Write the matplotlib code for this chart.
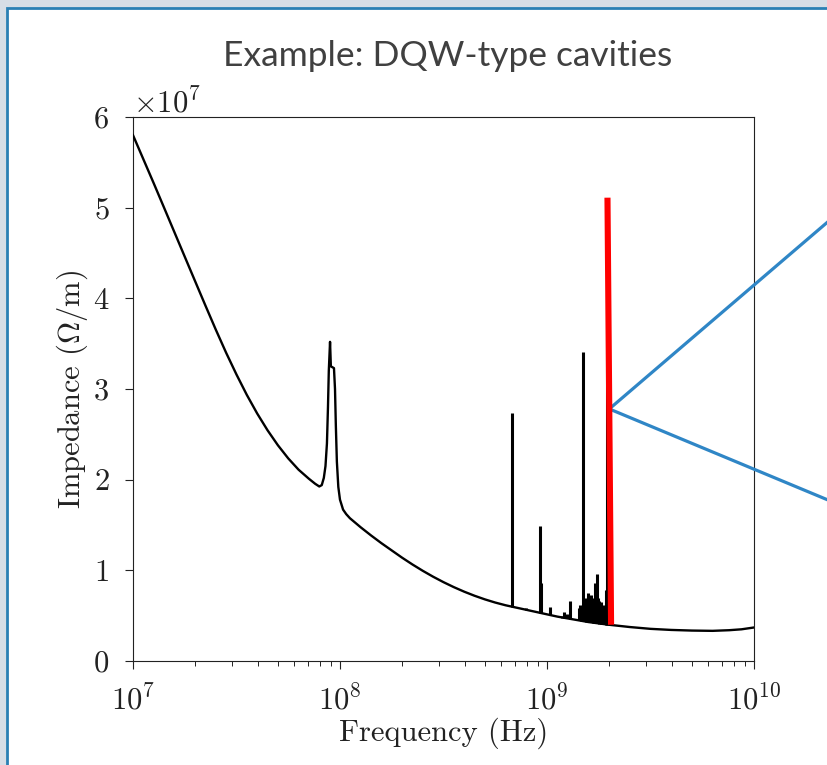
import matplotlib
matplotlib.use("Agg")
import matplotlib.pyplot as plt
from matplotlib.patches import Rectangle
from matplotlib.ticker import ScalarFormatter, LogLocator, MultipleLocator

# Broadband impedance curve (frequency in Hz, impedance in Ohm/m)
curve_freq = [1.000e7, 1.122e7, 1.259e7, 1.413e7, 1.585e7, 1.778e7, 1.995e7,
              2.239e7, 2.512e7, 2.818e7, 3.162e7, 3.548e7, 3.981e7, 4.467e7,
              5.012e7, 5.623e7, 6.310e7, 7.079e7, 7.586e7, 7.943e7, 8.166e7,
              8.356e7, 8.511e7, 8.650e7, 8.750e7, 8.831e7, 8.954e7, 9.036e7,
              9.354e7, 9.462e7, 9.550e7, 9.660e7, 9.817e7, 1.000e8, 1.035e8,
              1.072e8, 1.117e8, 1.259e8, 1.413e8, 1.585e8, 1.778e8, 1.995e8,
              2.239e8, 2.512e8, 2.818e8, 3.162e8, 3.548e8, 3.981e8, 4.467e8,
              5.012e8, 5.623e8, 6.310e8, 7.079e8, 7.943e8, 8.913e8, 1.000e9,
              1.122e9, 1.259e9, 1.413e9, 1.585e9, 1.778e9, 1.995e9, 2.512e9,
              3.162e9, 3.981e9, 5.012e9, 6.310e9, 7.586e9, 8.710e9, 1.000e10]
curve_imp = [5.80e7, 5.535e7, 5.27e7, 5.00e7, 4.73e7, 4.46e7, 4.19e7,
             3.92e7, 3.655e7, 3.40e7, 3.16e7, 2.935e7, 2.73e7, 2.545e7,
             2.38e7, 2.235e7, 2.11e7, 2.01e7, 1.955e7, 1.925e7, 1.94e7,
             2.02e7, 2.15e7, 2.40e7, 2.80e7, 3.20e7, 3.52e7, 3.25e7,
             3.23e7, 3.00e7, 2.60e7, 2.20e7, 1.92e7, 1.78e7, 1.67e7,
             1.62e7, 1.575e7, 1.475e7, 1.385e7, 1.30e7, 1.22e7, 1.14e7,
             1.065e7, 0.995e7, 0.93e7, 0.87e7, 0.815e7, 0.765e7, 0.72e7,
             0.68e7, 0.645e7, 0.615e7, 0.59e7, 0.565e7, 0.54e7, 0.515e7,
             0.49e7, 0.47e7, 0.45e7, 0.43e7, 0.415e7, 0.40e7, 0.375e7,
             0.355e7, 0.343e7, 0.336e7, 0.333e7, 0.34e7, 0.35e7, 0.37e7]

# Narrow higher-order-mode resonances
mode_freq = [6.8e8, 7.95e8, 9.25e8, 9.35e8, 1.03e9, 1.18e9, 1.21e9, 1.25e9,
             1.29e9, 1.42e9, 1.44e9, 1.46e9, 1.49e9, 1.50e9, 1.53e9, 1.55e9,
             1.57e9, 1.58e9, 1.60e9, 1.62e9, 1.64e9, 1.66e9, 1.68e9, 1.70e9,
             1.72e9, 1.74e9, 1.76e9, 1.79e9, 1.82e9, 1.84e9, 1.86e9, 1.88e9,
             1.91e9, 1.93e9, 1.96e9]
mode_base = [0.60e7, 0.565e7, 0.53e7, 0.527e7, 0.51e7, 0.48e7, 0.475e7, 0.47e7,
             0.465e7, 0.452e7, 0.45e7, 0.447e7, 0.443e7, 0.442e7, 0.439e7, 0.436e7,
             0.433e7, 0.432e7, 0.43e7, 0.428e7, 0.426e7, 0.424e7, 0.422e7, 0.42e7,
             0.419e7, 0.418e7, 0.416e7, 0.413e7, 0.41e7, 0.408e7, 0.406e7, 0.405e7,
             0.403e7, 0.402e7, 0.40e7]
mode_peak = [2.73e7, 0.59e7, 1.49e7, 0.86e7, 0.60e7, 0.50e7, 0.54e7, 0.52e7,
             0.665e7, 0.58e7, 0.62e7, 0.60e7, 0.62e7, 3.41e7, 0.68e7, 0.70e7,
             0.75e7, 0.72e7, 0.70e7, 0.71e7, 0.73e7, 0.68e7, 0.70e7, 0.86e7,
             0.80e7, 0.955e7, 0.70e7, 0.66e7, 0.65e7, 0.62e7, 0.60e7, 0.58e7,
             0.62e7, 0.78e7, 5.11e7]

# Highlighted crab-cavity mode
hl_freq = [1.96e9, 2.04e9]
hl_imp = [5.11e7, 0.40e7]

callout_anchor = (2.0e9, 2.78e7)

x_limits = (1e7, 1e10)
y_limits = (0, 6e7)

plt.rcParams["font.family"] = "serif"
plt.rcParams["font.serif"] = ["cmr10"]
plt.rcParams["mathtext.fontset"] = "cm"
plt.rcParams["axes.formatter.use_mathtext"] = True

fig = plt.figure(figsize=(8.28, 7.65), dpi=100)
fig.patch.set_facecolor("#d7dee6")

frame = Rectangle((7.5 / 828, -0.05), 1.1, 1 - 8.5 / 765 + 0.05,
                  transform=fig.transFigure, facecolor="white",
                  edgecolor="#2b80b4", linewidth=2.0, zorder=-5)
fig.add_artist(frame)

fig.text(448 / 828, 1 - 56 / 765, "Example: DQW-type cavities",
         ha="center", va="center", fontfamily="Lato", fontsize=25.5,
         color="#404040")

ax = fig.add_axes([0.1606, 0.1359, 0.750, 0.7112])
ax.set_xscale("log")

ax.plot(curve_freq, curve_imp, color="black", lw=1.7, zorder=3,
        solid_joinstyle="round")
ax.vlines(mode_freq, mode_base, mode_peak, color="black", lw=2.2, zorder=3)
ax.plot(hl_freq, hl_imp, color="#ff0000", lw=4.4, zorder=4,
        solid_capstyle="butt")

ax.set_xlim(*x_limits)
ax.set_ylim(*y_limits)

ax.yaxis.set_major_locator(MultipleLocator(1e7))
fmt = ScalarFormatter(useMathText=True)
fmt.set_powerlimits((0, 0))
ax.yaxis.set_major_formatter(fmt)
ax.xaxis.set_major_locator(LogLocator(base=10, numticks=10))

for side in ["top", "right", "left", "bottom"]:
    ax.spines[side].set_linewidth(0.8)
    ax.spines[side].set_color("#222222")

ax.tick_params(axis="both", which="major", direction="out", length=6,
               width=0.8, labelsize=22, pad=11, top=False, right=False,
               colors="#222222")
ax.tick_params(axis="x", which="minor", direction="out", length=3.5,
               width=0.6, top=False)
ax.yaxis.get_offset_text().set_fontsize(22)

ax.set_xlabel("Frequency (Hz)", fontsize=22, labelpad=1, color="#222222")
ax.set_ylabel(r"Impedance ($\Omega$/m)", fontsize=22, labelpad=2,
              color="#222222")

# Callout lines from the highlighted mode towards the right-hand side
for yf in (1 - 221.7 / 765, 1 - 500 / 765):
    ax.annotate("", xy=callout_anchor, xycoords="data",
                xytext=(1.0, yf), textcoords="figure fraction",
                annotation_clip=False,
                arrowprops=dict(arrowstyle="-", color="#2f86c6", lw=2.3,
                                shrinkA=0, shrinkB=0))

fig.savefig("out.png", dpi=100, facecolor=fig.get_facecolor())
